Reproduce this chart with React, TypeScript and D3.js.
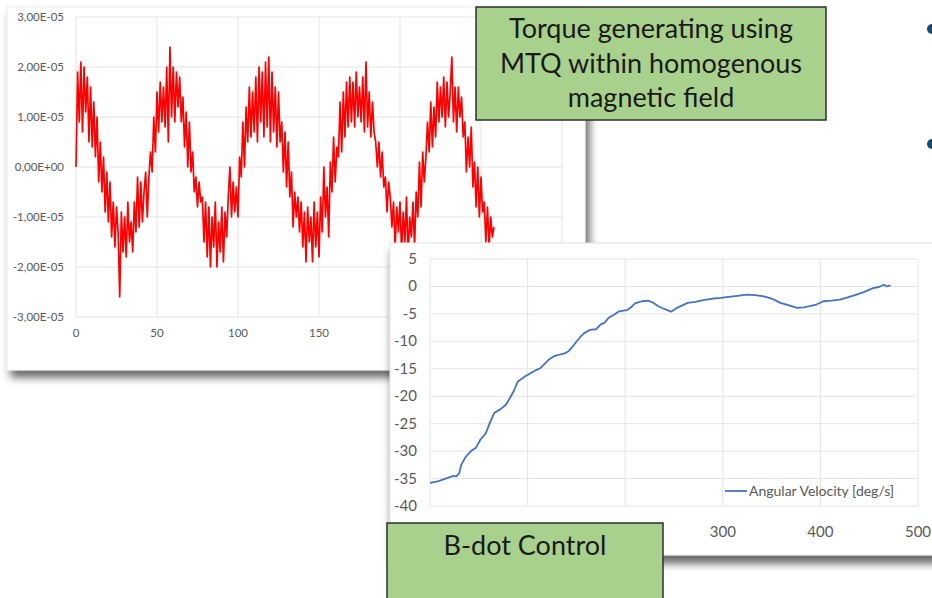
import * as d3 from 'd3';

// Torque series (units of 1e-5), one value per time step 0..258
const torque = [
  0.0, 1.9, 0.9, 2.1, 0.7, 2.0, 1.1, 1.8, 0.5, 1.6,
  0.4, 1.3, 0.2, 1.0, -0.3, 0.5, -0.5, 0.2, -0.9, -0.1,
  -1.1, -0.3, -1.4, -0.7, -1.6, -0.8, -1.3, -2.6, -0.9, -1.7,
  -1.0, -1.8, -0.7, -1.5, -1.1, -1.7, -0.7, -1.3, -0.2, -1.2,
  -0.3, -1.1, -0.5, -0.1, -1.0, -0.2, 0.3, -0.1, 1.0, 0.3,
  1.5, 0.7, 1.7, 0.9, 1.6, 0.8, 2.0, 0.5, 2.4, 1.0,
  2.0, 0.9, 1.9, 1.2, 1.8, 0.9, 1.4, 0.4, 1.1, 0.0,
  0.9, -0.1, 0.3, -0.5, -0.2, -0.8, -0.3, -0.7, -0.6, -1.5,
  -0.7, -1.8, -0.8, -2.0, -1.0, -1.6, -0.7, -2.0, -1.1, -1.7,
  -0.8, -1.9, -0.9, -1.4, -0.6, 0.0, -1.0, -0.3, -0.9, -0.4,
  -1.0, 0.2, -0.2, 0.9, 0.0, 1.2, 0.5, 1.6, 0.6, 1.5,
  0.7, 1.8, 0.5, 2.0, 0.9, 1.9, 0.6, 2.1, 0.8, 2.2,
  0.5, 1.9, 0.7, 1.6, 0.4, 1.5, 0.5, 0.9, -0.1, 0.7,
  -0.4, 0.5, -0.6, -0.1, -1.2, -0.5, -1.0, -0.6, -1.3, -0.7,
  -1.6, -0.9, -1.9, -0.8, -1.5, -1.0, -1.9, -0.7, -1.6, -0.9,
  -1.8, -0.6, -1.3, 0.0, -1.0, -0.4, -1.4, 0.1, -0.5, 0.6,
  -0.3, 0.4, 0.2, 1.3, 0.3, 1.5, 0.6, 1.7, 0.8, 1.8,
  0.9, 1.7, 0.8, 1.9, 1.0, 1.6, 0.9, 1.8, 0.7, 2.1,
  0.8, 1.5, 0.6, 1.3, 0.7, 0.5, 0.0, 0.5, -0.2, 0.3,
  -0.4, -0.2, -0.9, -0.3, -0.6, -1.2, -0.7, -1.6, -0.8, -1.3,
  -0.7, -1.7, -0.9, -1.5, -0.6, -1.8, -1.0, -1.4, -0.7, -1.6,
  -0.5, -1.0, 0.1, -0.8, 0.3, -0.3, 0.2, 0.9, 0.3, 1.3,
  0.4, 1.2, 0.6, 1.7, 0.9, 1.6, 1.0, 1.8, 0.8, 1.7,
  1.0, 1.5, 2.2, 0.9, 1.6, 0.7, 1.6, 1.0, 1.4, 0.6,
  0.9, -0.1, 0.6, 0.0, 0.8, -0.4, 0.1, -0.8, 0.0, -1.0,
  -0.2, -0.9, -0.7, -1.5, -0.8, -1.6, -1.0, -1.4, -1.2,
];
const torqueGridX = [0, 50, 100, 150, 200, 250, 300];
const torqueLabelsX = [0, 50, 100, 150]; // the rest sit under the other card
const torqueTicksY = [3, 2, 1, 0, -1, -2, -3];
const torqueLabelsY = ['3,00E-05', '2,00E-05', '1,00E-05', '0,00E+00', '-1,00E-05', '-2,00E-05', '-3,00E-05'];

// Angular velocity [deg/s] vs time
const velT = [0, 8, 16, 24, 27, 30, 32, 36, 42, 47, 52, 57, 61, 66, 72, 78, 81, 86, 90, 94,
  98, 103, 108, 113, 118, 122, 127, 133, 138, 142, 146, 149, 154, 158, 164, 170, 175, 179, 183, 188,
  193, 198, 202, 206, 210, 217, 224, 229, 234, 240, 247, 252, 258, 264, 272, 280, 290, 298, 306, 315,
  325, 333, 342, 350, 359, 367, 376, 383, 389, 396, 403, 411, 420, 428, 437, 445, 454, 460, 465, 468, 472];
const velV = [-35.8, -35.5, -35.0, -34.5, -34.6, -34.0, -32.5, -31.2, -30.0, -29.4, -27.8, -26.8, -25.0, -23.0, -22.4, -21.5, -20.6, -19.0, -17.3, -16.8,
  -16.3, -15.8, -15.3, -14.9, -14.0, -13.3, -12.7, -12.4, -12.2, -11.8, -11.0, -10.3, -9.2, -8.5, -7.9, -7.8, -6.9, -6.6, -5.7, -5.2,
  -4.6, -4.4, -4.3, -3.8, -3.1, -2.7, -2.6, -3.0, -3.6, -4.1, -4.6, -4.0, -3.5, -3.0, -2.8, -2.5, -2.2, -2.1, -1.9, -1.7,
  -1.5, -1.6, -1.8, -2.2, -3.0, -3.4, -3.9, -3.8, -3.6, -3.3, -2.7, -2.6, -2.4, -2.0, -1.5, -1.0, -0.3, -0.1, 0.3, 0.0, 0.2];
const velGridX = [0, 100, 200, 300, 400, 500];
const velLabelsX = [300, 400, 500]; // 0..200 are covered by the callout
const velTicksY = [5, 0, -5, -10, -15, -20, -25, -30, -35, -40];
const legendLabel = 'Angular Velocity [deg/s]';

const FONT = 'Lato, Carlito, Calibri, sans-serif';
const GREEN = '#a9d18e';
const GRID = '#e4e4e4';
const LABEL = '#595959';

export default function App() {
  // red chart scales
  const rx = d3.scaleLinear().domain([0, 300]).range([76, 562]);
  const ry = d3.scaleLinear().domain([-3, 3]).range([317, 17]);
  const redLine = d3.line<number>().x((_, i) => rx(i)).y(d => ry(d));

  // blue chart scales
  const bx = d3.scaleLinear().domain([0, 500]).range([430, 918]);
  const by = d3.scaleLinear().domain([-40, 5]).range([506, 259]);
  const blueLine = d3.line<number>().x((_, i) => bx(velT[i])).y(d => by(d));

  return (
    <div style={{ position: 'absolute', left: 0, top: 0, width: 932, height: 598, overflow: 'hidden', background: '#fff' }}>
      <svg width={932} height={598} style={{ display: 'block', fontFamily: FONT }}>
        <defs>
          <filter id="cardShadow" x="-10%" y="-10%" width="125%" height="130%">
            <feDropShadow dx="4" dy="7" stdDeviation="4" floodColor="#000" floodOpacity="0.6" />
          </filter>
          <filter id="softShadow" x="-10%" y="-10%" width="125%" height="130%">
            <feDropShadow dx="2" dy="8" stdDeviation="4" floodColor="#000" floodOpacity="0.6" />
          </filter>
        </defs>
        <rect width={932} height={598} fill="#fff" />

        {/* red torque chart card */}
        <g>
          <rect x={7} y={7} width={578} height={363} fill="#fff" stroke="#ececec" filter="url(#cardShadow)" />
          {torqueTicksY.map(t => (
            <line key={'rgy' + t} x1={rx(0)} x2={rx(300)} y1={ry(t)} y2={ry(t)} stroke={GRID} strokeWidth={1} />
          ))}
          {torqueGridX.map(t => (
            <line key={'rgx' + t} x1={rx(t)} x2={rx(t)} y1={ry(3)} y2={ry(-3)} stroke={GRID} strokeWidth={1} />
          ))}
          {torqueTicksY.map((t, i) => (
            <text key={'rly' + t} x={64} y={ry(t) + 4} textAnchor="end" fontSize={11.5} fill={LABEL}>{torqueLabelsY[i]}</text>
          ))}
          {torqueLabelsX.map(t => (
            <text key={'rlx' + t} x={rx(t)} y={337} textAnchor="middle" fontSize={11.5} fill={LABEL}>{t}</text>
          ))}
          <path d={redLine(torque) || ''} fill="none" stroke="#ff0000" strokeWidth={1.7} strokeLinejoin="round" />
        </g>

        {/* blue angular velocity chart card */}
        <g>
          <rect x={390} y={243} width={560} height={312} fill="#fff" stroke="#e2e2e2" filter="url(#softShadow)" />
          {velTicksY.map(t => (
            <line key={'bgy' + t} x1={bx(0)} x2={bx(500)} y1={by(t)} y2={by(t)} stroke={GRID} strokeWidth={1} />
          ))}
          {velGridX.map(t => (
            <line key={'bgx' + t} x1={bx(t)} x2={bx(t)} y1={by(5)} y2={by(-40)} stroke={GRID} strokeWidth={1} />
          ))}
          {velTicksY.map(t => (
            <text key={'bly' + t} x={417} y={by(t) + 5} textAnchor="end" fontSize={15} fill={LABEL}>{t}</text>
          ))}
          {velLabelsX.map(t => (
            <text key={'blx' + t} x={bx(t)} y={537} textAnchor="middle" fontSize={15} fill={LABEL}>{t}</text>
          ))}
          <path d={blueLine(velV) || ''} fill="none" stroke="#4472c4" strokeWidth={1.8} strokeLinejoin="round" />
          <line x1={725} x2={747} y1={491} y2={491} stroke="#4472c4" strokeWidth={1.8} />
          <text x={749} y={496} fontSize={14} fill={LABEL}>{legendLabel}</text>
        </g>

        {/* green callout boxes */}
        <rect x={476} y={7} width={350} height={113} fill={GREEN} stroke="#2e2e2e" strokeWidth={1.5} />
        <text x={651} y={38} textAnchor="middle" fontSize={27} fill="#1a1a1a">Torque generating using</text>
        <text x={651} y={73} textAnchor="middle" fontSize={27} fill="#1a1a1a">MTQ within homogenous</text>
        <text x={651} y={107} textAnchor="middle" fontSize={27} fill="#1a1a1a">magnetic field</text>

        <rect x={387} y={523} width={276} height={90} fill={GREEN} stroke="#2e2e2e" strokeWidth={1.5} />
        <text x={525} y={555} textAnchor="middle" fontSize={27} fill="#1a1a1a">B-dot Control</text>

        {/* slide bullets, cut off at right edge */}
        <circle cx={932} cy={29} r={5} fill="#174a6b" />
        <circle cx={932} cy={144} r={5} fill="#174a6b" />
      </svg>
    </div>
  );
}
